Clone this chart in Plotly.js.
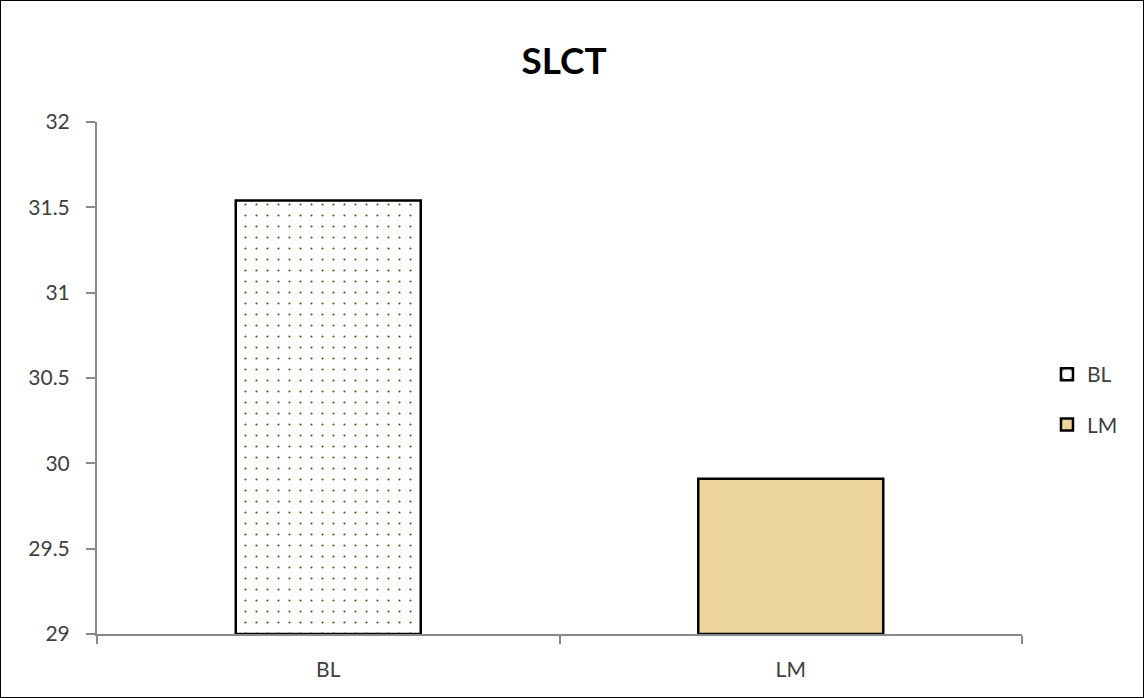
<!DOCTYPE html>
<html>
<head>
<meta charset="utf-8">
<script src="https://cdn.plot.ly/plotly-3.0.1.min.js"></script>
<style>
html,body{margin:0;padding:0;background:#fff;}
#chart{width:1142px;height:696px;border:1px solid #000;}
</style>
</head>
<body>
<div id="chart"></div>
<script>
const categories = ["BL", "LM"];
const values = [31.54, 29.91];
const axisFloor = 29;
const yTicks = [29, 29.5, 30, 30.5, 31, 31.5, 32];
const yTickLabels = ["29", "29.5", "30", "30.5", "31", "31.5", "32"];

const traces = [
  {
    type: "bar", name: categories[0], legendgroup: "g1",
    x: [categories[0]], y: [values[0] - axisFloor], base: axisFloor,
    marker: {
      color: "#ffffff",
      pattern: {shape: ".", fgcolor: "#3f5419", bgcolor: "#ffffff", size: 11, solidity: 0.028},
      line: {color: "#000000", width: 2.5}
    },
    width: 0.4
  },
  {
    type: "bar", name: categories[1], legendgroup: "g2",
    x: [categories[1]], y: [values[1] - axisFloor], base: axisFloor,
    marker: {
      color: "#ebd59c",
      line: {color: "#000000", width: 2.5}
    },
    width: 0.4
  }
];

const layout = {
  width: 1142, height: 696,
  paper_bgcolor: "#ffffff", plot_bgcolor: "#ffffff",
  margin: {l: 96, r: 121, t: 121, b: 63, pad: 0},
  barmode: "overlay",
  title: {text: "<b>SLCT</b>", x: 0.493, xanchor: "center", y: 0.914, yanchor: "middle",
          font: {family: "Lato, 'Open Sans', sans-serif", size: 37, color: "#000000"}},
  font: {family: "Lato, 'Open Sans', sans-serif", size: 21, color: "#404040"},
  xaxis: {
    type: "category", categoryorder: "array", categoryarray: categories,
    showline: true, linecolor: "#898989", linewidth: 2,
    ticks: "outside", tickson: "boundaries", ticklen: 8, tickcolor: "#898989", tickwidth: 2,
    ticklabelstandoff: 16,
    showgrid: false, zeroline: false,
    tickfont: {size: 21, color: "#404040"}
  },
  yaxis: {
    range: [29, 32], tickvals: yTicks, ticktext: yTickLabels,
    showline: true, linecolor: "#898989", linewidth: 2,
    ticks: "outside", ticklen: 9, tickcolor: "#898989", tickwidth: 2,
    ticklabelstandoff: 12,
    showgrid: false, zeroline: false,
    tickfont: {size: 21, color: "#404040"}
  },
  showlegend: true,
  legend: {x: 1.027, xanchor: "left", y: 0.458, yanchor: "middle",
           font: {size: 21, color: "#404040"}, tracegroupgap: 20,
           itemwidth: 30, traceorder: "grouped"}
};

Plotly.newPlot("chart", traces, layout, {displayModeBar: false, staticPlot: true});
</script>
</body>
</html>
